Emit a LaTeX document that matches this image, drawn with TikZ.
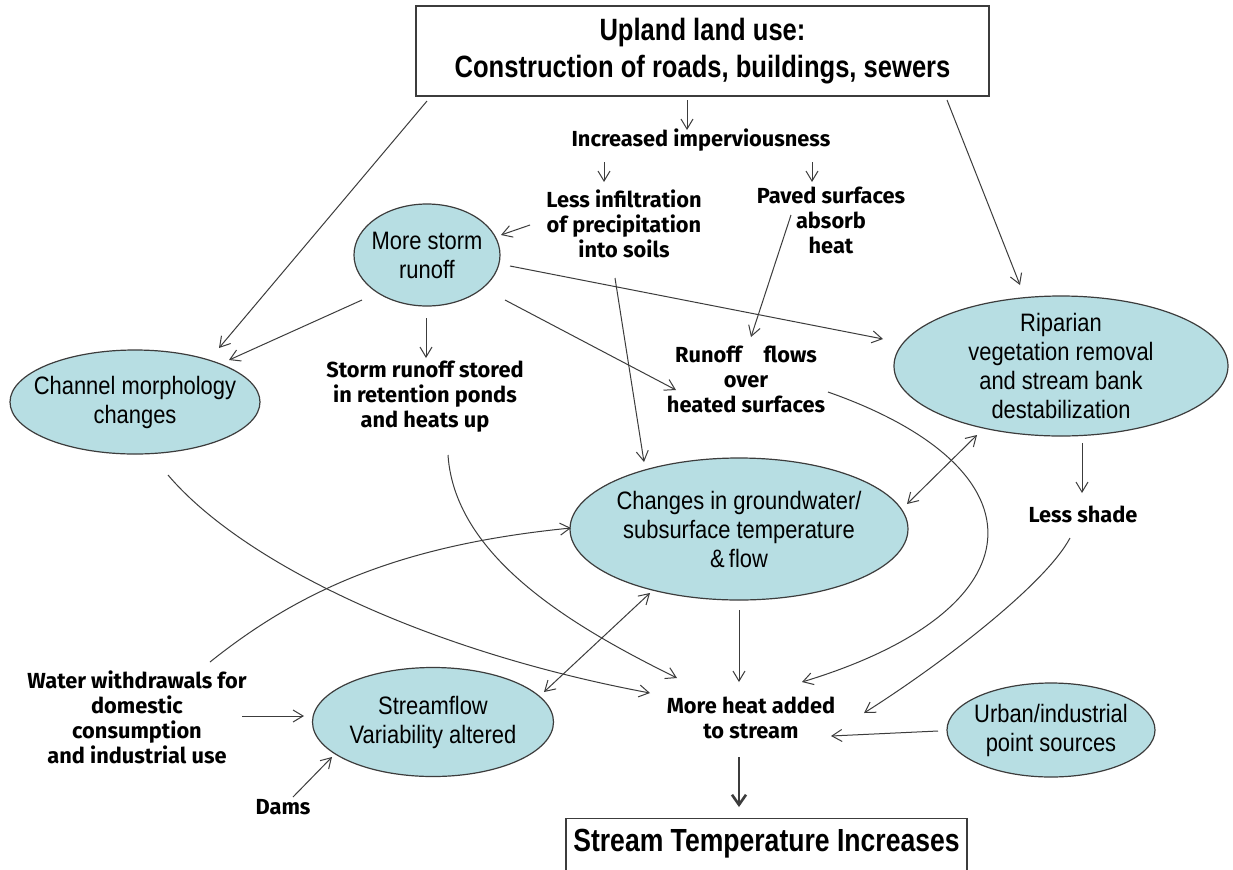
\documentclass[tikz,border=0pt]{standalone}
\usepackage{fontspec}
\usepackage{tikz}
\usetikzlibrary{shapes.geometric,arrows.meta}
\newfontfamily\ovalfont[FakeStretch=0.87]{Liberation Sans}
\newfontfamily\titlefont[FakeStretch=0.83]{Liberation Sans}
\newfontfamily\notefont{Fira Sans}
\definecolor{ovalblue}{RGB}{183,222,227}
\definecolor{linegray}{RGB}{60,60,60}

\begin{document}
\begin{tikzpicture}[x=0.5pt, y=-0.5pt,
    oval/.style={ellipse, draw=linegray, line width=0.6pt, fill=ovalblue, inner sep=0pt, align=center, font=\ovalfont\fontsize{12.6}{14.5}\selectfont},
    note/.style={align=center, inner sep=0pt, font=\notefont\bfseries\fontsize{10.9}{12.5}\selectfont},
    titlebox/.style={draw=linegray, line width=0.6pt, align=center, font=\titlefont\bfseries\fontsize{15.4}{18.5}\selectfont},
    arr/.style={draw=linegray, line width=0.5pt, -{Straight Barb[length=5pt,width=6pt]}},
    twoway/.style={arr, {Straight Barb[length=5pt,width=6pt]}-{Straight Barb[length=5pt,width=6pt]}}]
    \useasboundingbox [fill=white] (0,0) rectangle (1233,869);
    \node [titlebox, minimum width=286.5pt, minimum height=45pt] (top) at (702.5,51) {Upland land use:\\Construction of roads, buildings, sewers};
    \node [note] (imperv) at (701,140) {Increased imperviousness};
    \node [note] (infil) at (624,224) {Less infiltration\\of precipitation\\into soils};
    \node [note] (paved) at (831,220) {Paved surfaces\\absorb\\heat};
    \node [oval, minimum width=73pt, minimum height=51pt, inner xsep=-2pt] (storm) at (427,255) {More storm\\runoff};
    \node [oval, minimum width=125pt, minimum height=52pt, inner xsep=-6.5pt] (channel) at (135,402) {Channel morphology\\changes};
    \node [note] (stored) at (425,397) {Storm runoff stored\\in retention ponds\\and heats up};
    \node [note] (flows) at (746,379) {Runoff\quad flows\\over\\heated surfaces};
    \node [oval, minimum width=167pt, minimum height=70pt, inner ysep=-3pt] (riparian) at (1061,366) {Riparian\\vegetation removal\\and stream bank\\destabilization};
    \node [note] (shade) at (1083,514) {Less shade};
    \node [oval, minimum width=166pt, minimum height=71pt, inner xsep=-1.5pt] (ground) at (739,529) {Changes in groundwater/\\subsurface temperature\\\&\,flow};
    \node [note] (water) at (137,717) {Water withdrawals for\\domestic\\consumption\\and industrial use};
    \node [oval, minimum width=120.5pt, minimum height=54.5pt] (streamflow) at (433,722) {Streamflow\\Variability altered};
    \node [note] (dams) at (283,807) {Dams};
    \node [note] (heat) at (751,718) {More heat added\\to stream};
    \node [oval, minimum width=104pt, minimum height=47pt, inner xsep=-2pt] (urban) at (1051,730) {Urban/industrial\\point sources};
    \node [titlebox, anchor=north, minimum width=200.5pt, inner ysep=5.5pt, text depth=16pt, font=\titlefont\bfseries\fontsize{16}{19}\selectfont] (result) at (766.5,818) {Stream Temperature Increases};
    \draw [arr] ([shift={(-15.5,49)}]top.center) -- ([shift={(-14,-10)}]imperv.center);
    \draw [arr] ([shift={(-97,22)}]imperv.center) -- ([shift={(-20,-42)}]infil.center);
    \draw [arr] ([shift={(111,22)}]imperv.center) -- ([shift={(-19,-38)}]paved.center);
    \draw [arr] ([shift={(-94,1)}]infil.center) -- ([shift={(74,-20)}]storm.center);
    \draw [arr] ([shift={(-275.5,50)}]top.center) -- ([shift={(84,-54)}]channel.center);
    \draw [arr] ([shift={(-65,45)}]storm.center) -- ([shift={(94,-42)}]channel.center);
    \draw [arr] ([shift={(-1,63)}]storm.center) -- ([shift={(1,-39)}]stored.center);
    \draw [arr] ([shift={(78,45)}]storm.center) -- ([shift={(-70,11)}]flows.center);
    \draw [arr] ([shift={(83,11)}]storm.center) -- ([shift={(-178,-27)}]riparian.center);
    \draw [arr] ([shift={(-40,-5)}]paved.center) -- ([shift={(5,-42)}]flows.center);
    \draw [arr] ([shift={(-9,54)}]infil.center) -- ([shift={(-95,-67)}]ground.center);
    \draw [arr] ([shift={(244.5,49)}]top.center) -- ([shift={(-41,-81)}]riparian.center);
    \draw [twoway] ([shift={(-84,69)}]riparian.center) -- ([shift={(168,-25)}]ground.center);
    \draw [arr] ([shift={(21,77)}]riparian.center) -- ([shift={(-1,-21)}]shade.center);
    \draw [arr] ([shift={(-13,24)}]shade.center) .. controls +(-25,47) and +(76,-48) .. ([shift={(113,-5)}]heat.center);
    \draw [arr] ([shift={(82,13)}]flows.center) .. controls +(222,78) and +(238,-72) .. ([shift={(51,-36)}]heat.center);
    \draw [arr] ([shift={(0,81)}]ground.center) -- ([shift={(-12,-36)}]heat.center);
    \draw [arr] ([shift={(23,58)}]stored.center) .. controls +(7,105) and +(-97,-48) .. ([shift={(-74,-40)}]heat.center);
    \draw [arr] ([shift={(33,73)}]channel.center) .. controls +(72,85) and +(-230,-43) .. ([shift={(-101,-25)}]heat.center);
    \draw [arr] ([shift={(73,-55)}]water.center) .. controls +(90,-72) and +(-171,17) .. ([shift={(-168,-1)}]ground.center);
    \draw [arr] ([shift={(105,-1)}]water.center) -- ([shift={(-129,-6)}]streamflow.center);
    \draw [arr] ([shift={(10,-10)}]dams.center) -- ([shift={(-101,35)}]streamflow.center);
    \draw [twoway] ([shift={(111,-30)}]streamflow.center) -- ([shift={(-89,64)}]ground.center);
    \draw [arr] ([shift={(-113,1)}]urban.center) -- ([shift={(80,18)}]heat.center);
    \draw [arr, line width=1.3pt, -{Straight Barb[length=5pt,width=7pt]}] ([shift={(-12,39)}]heat.center) -- ([shift={(-27.5,-11)}]result.north);
\end{tikzpicture}
\end{document}
